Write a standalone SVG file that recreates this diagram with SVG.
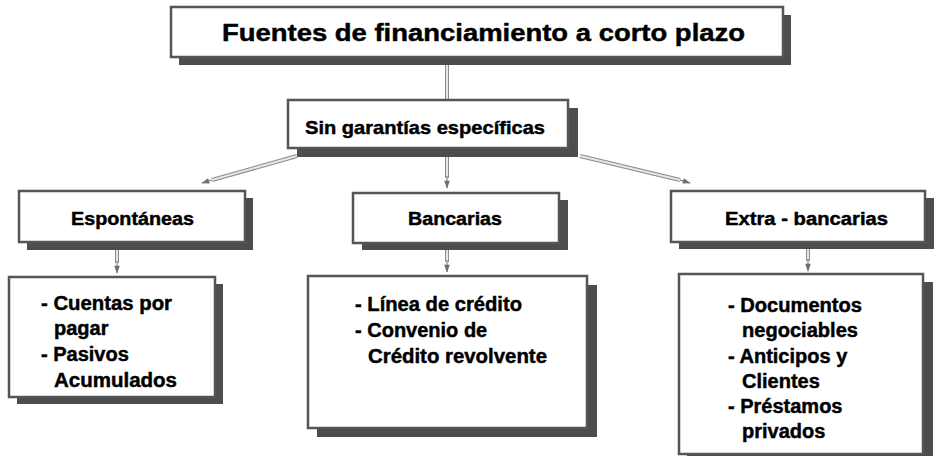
<svg xmlns="http://www.w3.org/2000/svg" width="934" height="456" viewBox="0 0 934 456">
<defs>
<style>
.sh{fill:#4d4d4d}
.bx{fill:#fff;stroke:#555;stroke-width:2.5}
.t{font-family:"Liberation Sans",Arial,sans-serif;font-weight:bold;fill:#000;stroke:#000;stroke-width:0.45}
.c1{fill:none;stroke:#8a8a8a;stroke-width:4}
.c2{fill:none;stroke:#e6e6e6;stroke-width:2}
</style>
<marker id="ah" viewBox="0 0 10 10" refX="9" refY="5" markerWidth="14" markerHeight="8" markerUnits="userSpaceOnUse" orient="auto">
<path d="M0,1.5 L10,5 L0,8.5 Z" fill="#6e6e6e"/>
</marker>
</defs>
<rect width="934" height="456" fill="#fff"/>
<g id="connectors">
<line class="c1" x1="447" y1="64" x2="447" y2="100"/>
<line class="c2" x1="447" y1="64" x2="447" y2="100"/>
<line class="c1" x1="297" y1="156" x2="212" y2="180"/>
<line class="c2" x1="297" y1="156" x2="212" y2="180"/>
<line x1="212" y1="180" x2="202" y2="183" stroke="#6e6e6e" stroke-width="1" marker-end="url(#ah)"/>
<line class="c1" x1="447" y1="157" x2="447" y2="178"/>
<line class="c2" x1="447" y1="157" x2="447" y2="178"/>
<line x1="447" y1="176" x2="447" y2="188" stroke="#6e6e6e" stroke-width="1" marker-end="url(#ah)"/>
<line class="c1" x1="580" y1="156" x2="680" y2="180"/>
<line class="c2" x1="580" y1="156" x2="680" y2="180"/>
<line x1="680" y1="180" x2="690" y2="183" stroke="#6e6e6e" stroke-width="1" marker-end="url(#ah)"/>
<line class="c1" x1="117" y1="250" x2="117" y2="263"/>
<line class="c2" x1="117" y1="250" x2="117" y2="263"/>
<line x1="117" y1="261" x2="117" y2="273" stroke="#6e6e6e" stroke-width="1" marker-end="url(#ah)"/>
<line class="c1" x1="447" y1="250" x2="447" y2="262"/>
<line class="c2" x1="447" y1="250" x2="447" y2="262"/>
<line x1="447" y1="260" x2="447" y2="272" stroke="#6e6e6e" stroke-width="1" marker-end="url(#ah)"/>
<line class="c1" x1="808" y1="249" x2="808" y2="261"/>
<line class="c2" x1="808" y1="249" x2="808" y2="261"/>
<line x1="808" y1="259" x2="808" y2="271" stroke="#6e6e6e" stroke-width="1" marker-end="url(#ah)"/>
</g>
<g id="title">
<rect class="sh" x="179" y="15" width="612" height="50"/>
<rect class="bx" x="171" y="7" width="612" height="50"/>
<text class="t" x="222" y="41" font-size="24" textLength="523" lengthAdjust="spacingAndGlyphs">Fuentes de financiamiento a corto plazo</text>
</g>
<g id="sin">
<rect class="sh" x="297" y="108" width="281" height="49"/>
<rect class="bx" x="288" y="100" width="280" height="48"/>
<text class="t" x="305" y="134" font-size="19" textLength="240" lengthAdjust="spacingAndGlyphs">Sin garantías específicas</text>
</g>
<g id="espontaneas">
<rect class="sh" x="27" y="198" width="226" height="52"/>
<rect class="bx" x="19" y="191" width="226" height="51"/>
<text class="t" x="71" y="225" font-size="18" textLength="123" lengthAdjust="spacingAndGlyphs">Espontáneas</text>
</g>
<g id="bancarias">
<rect class="sh" x="362" y="200" width="206" height="50"/>
<rect class="bx" x="353" y="193" width="206" height="50"/>
<text class="t" x="408" y="225" font-size="18" textLength="94" lengthAdjust="spacingAndGlyphs">Bancarias</text>
</g>
<g id="extra">
<rect class="sh" x="679" y="198" width="255" height="51"/>
<rect class="bx" x="671" y="191" width="254" height="51"/>
<text class="t" x="725" y="225" font-size="18" textLength="163" lengthAdjust="spacingAndGlyphs">Extra - bancarias</text>
</g>
<g id="espontaneas-items">
<rect class="sh" x="17" y="284" width="206" height="120"/>
<rect class="bx" x="9" y="277" width="206" height="120"/>
<text class="t" font-size="20">
<tspan x="41" y="310" textLength="131" lengthAdjust="spacingAndGlyphs">- Cuentas por</tspan>
<tspan x="54" y="335">pagar</tspan>
<tspan x="41" y="361">- Pasivos</tspan>
<tspan x="54" y="387" textLength="123" lengthAdjust="spacingAndGlyphs">Acumulados</tspan>
</text>
</g>
<g id="bancarias-items">
<rect class="sh" x="317" y="285" width="280" height="152"/>
<rect class="bx" x="308" y="276" width="279" height="152"/>
<text class="t" font-size="20">
<tspan x="355" y="311" textLength="167" lengthAdjust="spacingAndGlyphs">- Línea de crédito</tspan>
<tspan x="355" y="337">- Convenio de</tspan>
<tspan x="368" y="363" textLength="179" lengthAdjust="spacingAndGlyphs">Crédito revolvente</tspan>
</text>
</g>
<g id="extra-items">
<rect class="sh" x="687" y="282" width="246" height="180"/>
<rect class="bx" x="679" y="274" width="244" height="180"/>
<text class="t" font-size="20">
<tspan x="728" y="312" textLength="134" lengthAdjust="spacingAndGlyphs">- Documentos</tspan>
<tspan x="742" y="337" textLength="116" lengthAdjust="spacingAndGlyphs">negociables</tspan>
<tspan x="728" y="363">- Anticipos y</tspan>
<tspan x="742" y="388">Clientes</tspan>
<tspan x="728" y="413">- Préstamos</tspan>
<tspan x="742" y="438">privados</tspan>
</text>
</g>
</svg>
